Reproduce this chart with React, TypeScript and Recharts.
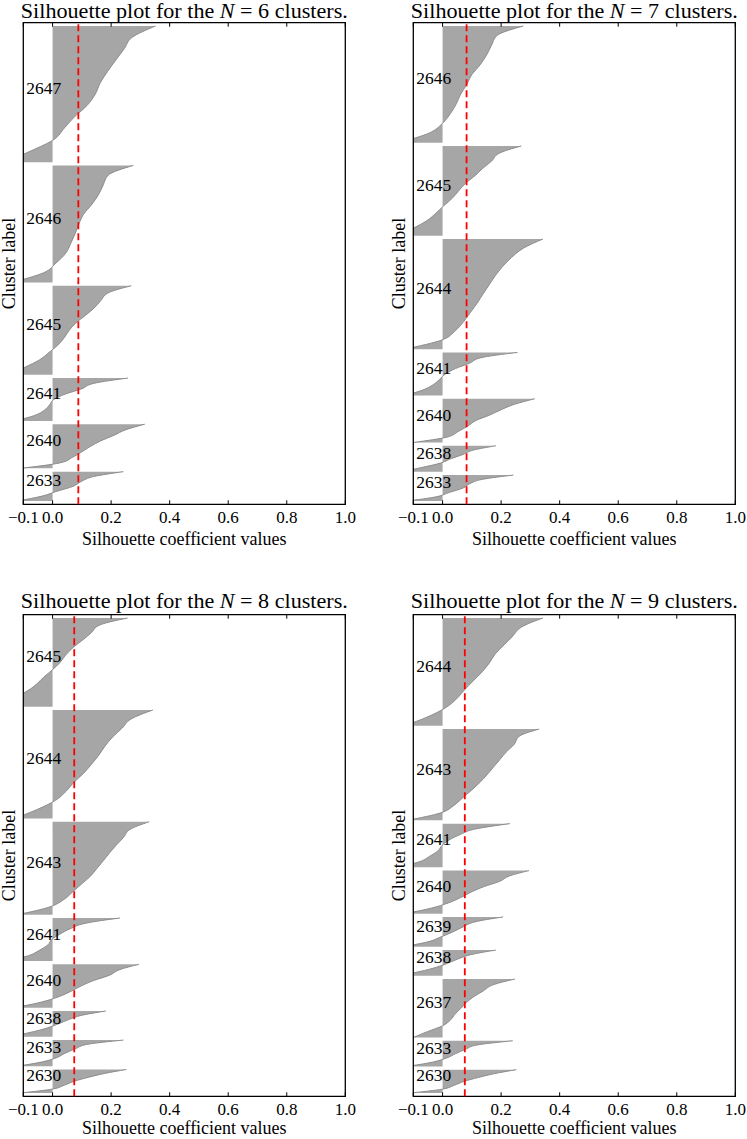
import React from 'react';
import {
    ComposedChart,
    Area,
    XAxis,
    YAxis,
    ReferenceLine,
    ReferenceArea,
    ReferenceDot,
} from 'recharts';

const FONT = '"Liberation Serif", "Times New Roman", serif';

// sorted silhouette values of every cluster, read from bottom to top of the band
// N = 6
const n6Labels = ['2633', '2640', '2641', '2645', '2646', '2647'];
const n6Sizes = [89, 134, 130, 270, 355, 413];
const n6Values = [
    [-0.12, -0.036, 0.015, 0.07, 0.098, 0.14, 0.242],
    [-0.11, 0.026, 0.068, 0.1, 0.13, 0.165, 0.21, 0.25, 0.315],
    [-0.13, -0.062, -0.028, -0.01, 0.004, 0.043, 0.1, 0.14, 0.258],
    [-0.15, -0.095, -0.045, -0.012, 0.018, 0.04, 0.057, 0.08, 0.112, 0.142, 0.165, 0.188, 0.269],
    [-0.14, -0.03, 0.012, 0.045, 0.062, 0.077, 0.09, 0.106, 0.134, 0.157, 0.173, 0.19, 0.276],
    [-0.16, -0.073, 0.005, 0.04, 0.075, 0.118, 0.146, 0.163, 0.188, 0.216, 0.245, 0.272, 0.352],
];
const n6Avg = 0.088;

// N = 7
const n7Labels = ['2633', '2638', '2640', '2641', '2644', '2645', '2646'];
const n7Sizes = [79, 79, 133, 131, 335, 273, 355];
const n7Values = [
    [-0.12, -0.02, 0.024, 0.07, 0.093, 0.135, 0.242],
    [-0.14, -0.07, -0.007, 0.028, 0.07, 0.105, 0.182],
    [-0.1, 0.016, 0.053, 0.086, 0.113, 0.16, 0.2, 0.246, 0.315],
    [-0.13, -0.068, -0.032, -0.01, 0.01, 0.044, 0.092, 0.13, 0.256],
    [-0.13, -0.002, 0.043, 0.072, 0.095, 0.118, 0.138, 0.159, 0.18, 0.205, 0.236, 0.276, 0.343],
    [-0.15, -0.1, -0.054, -0.023, 0.004, 0.033, 0.055, 0.078, 0.11, 0.137, 0.168, 0.192, 0.269],
    [-0.15, -0.045, 0, 0.027, 0.047, 0.062, 0.083, 0.1, 0.128, 0.15, 0.167, 0.185, 0.276],
];
const n7Avg = 0.082;

// N = 8
const n8Labels = ['2630', '2633', '2638', '2640', '2641', '2643', '2644', '2645'];
const n8Sizes = [71, 79, 78, 131, 130, 281, 328, 268];
const n8Values = [
    [-0.11, 0, 0.04, 0.074, 0.122, 0.178, 0.252],
    [-0.12, -0.034, 0.015, 0.043, 0.078, 0.117, 0.242],
    [-0.15, -0.077, -0.02, 0.02, 0.055, 0.1, 0.182],
    [-0.13, -0.04, 0.02, 0.062, 0.097, 0.14, 0.195, 0.228, 0.295],
    [-0.16, -0.082, -0.045, -0.016, -0.003, 0.025, 0.06, 0.11, 0.23],
    [-0.12, -0.01, 0.04, 0.07, 0.1, 0.13, 0.152, 0.174, 0.195, 0.218, 0.243, 0.264, 0.33],
    [-0.13, -0.052, 0.01, 0.046, 0.073, 0.106, 0.133, 0.158, 0.179, 0.205, 0.238, 0.268, 0.343],
    [-0.2, -0.15, -0.092, -0.056, -0.03, 0, 0.026, 0.045, 0.07, 0.102, 0.132, 0.158, 0.256],
];
const n8Avg = 0.074;

// N = 9
const n9Labels = ['2630', '2633', '2637', '2638', '2639', '2640', '2641', '2643', '2644'];
const n9Sizes = [71, 78, 178, 78, 91, 131, 133, 278, 328];
const n9Values = [
    [-0.11, 0, 0.04, 0.074, 0.122, 0.178, 0.252],
    [-0.12, -0.034, 0.015, 0.045, 0.078, 0.117, 0.24],
    [-0.1, -0.052, 0, 0.027, 0.043, 0.0625, 0.082, 0.107, 0.14, 0.172, 0.247],
    [-0.15, -0.077, -0.02, 0.02, 0.055, 0.1, 0.182],
    [-0.14, -0.05, -0.005, 0.035, 0.07, 0.11, 0.207],
    [-0.13, -0.04, 0.02, 0.062, 0.097, 0.14, 0.195, 0.228, 0.295],
    [-0.16, -0.08, -0.045, -0.016, -0.002, 0.022, 0.06, 0.11, 0.23],
    [-0.12, -0.005, 0.04, 0.07, 0.1, 0.128, 0.152, 0.174, 0.196, 0.218, 0.245, 0.26, 0.33],
    [-0.13, -0.05, 0.01, 0.048, 0.075, 0.105, 0.135, 0.16, 0.18, 0.21, 0.24, 0.27, 0.343],
];
const n9Avg = 0.076;

const xTicks = [-0.1, 0, 0.2, 0.4, 0.6, 0.8, 1.0];

const GAP = 10;
const CHART_W = 370;
const CHART_H = 546;
const PLOT_L = 23.3;
const PLOT_T = 22.7;
const PLOT_R = 345.3;
const PLOT_B = 504.3;
const CENTER_X = (PLOT_L + PLOT_R) / 2;

// stack the clusters like the sklearn example: y_lower starts at 10, 10 between bands
function buildClusters(labels: string[], sizes: number[], values: number[][]) {
    let lower = GAP;
    const clusters = labels.map((label, i) => {
        const size = sizes[i];
        const vals = values[i];
        const m = vals.length;
        const pts = vals.map((v, j) => ({ y: lower + (size * j) / (m - 1), v }));
        const c = { label, mid: lower + size / 2, pts };
        lower += size + GAP;
        return c;
    });
    return { clusters, total: lower };
}

const fmtTick = (v: number) => v.toFixed(1).replace('-', '\u2212');

const renderBottomTick = (props: any) => {
    const { x, y, payload } = props;
    return (
        <g>
            <line x1={x} y1={y} x2={x} y2={y - 4} stroke="#000" strokeWidth={1} />
            <text x={x} y={y + 19} textAnchor="middle" fontFamily={FONT} fontSize={17} fill="#000">
                {fmtTick(payload.value)}
            </text>
        </g>
    );
};

const renderTopTick = (props: any) => {
    const { x, y } = props;
    return <line x1={x} y1={y} x2={x} y2={y + 4} stroke="#000" strokeWidth={1} />;
};

type PanelProps = {
    k: number;
    labels: string[];
    sizes: number[];
    values: number[][];
    avg: number;
    left: number;
    top: number;
    titleY: number;
    xLabelY: number;
};

const Panel: React.FC<PanelProps> = ({ k, labels, sizes, values, avg, left, top, titleY, xLabelY }) => {
    const { clusters, total } = buildClusters(labels, sizes, values);
    return (
        <div style={{ position: 'absolute', left, top, width: CHART_W, height: CHART_H }}>
            <ComposedChart
                layout="vertical"
                width={CHART_W}
                height={CHART_H}
                margin={{ top: PLOT_T - 1, left: PLOT_L, right: CHART_W - PLOT_R, bottom: CHART_H - PLOT_B - 1 }}
            >
                <XAxis
                    type="number"
                    domain={[-0.1, 1]}
                    ticks={xTicks}
                    allowDataOverflow
                    interval={0}
                    height={1}
                    tickSize={0}
                    tickMargin={0}
                    tickLine={false}
                    axisLine={false}
                    tick={renderBottomTick}
                />
                <XAxis
                    xAxisId="top"
                    orientation="top"
                    type="number"
                    domain={[-0.1, 1]}
                    ticks={xTicks}
                    allowDataOverflow
                    interval={0}
                    height={1}
                    tickSize={0}
                    tickMargin={0}
                    tickLine={false}
                    axisLine={false}
                    tick={renderTopTick}
                />
                <YAxis type="number" dataKey="y" domain={[0, total]} allowDataOverflow reversed hide />
                {clusters.map((c) => (
                    <Area
                        key={c.label}
                        data={c.pts}
                        dataKey="v"
                        type="monotone"
                        baseValue={0}
                        fill="#a6a6a6"
                        fillOpacity={1}
                        stroke="#8c8c8c"
                        strokeWidth={1}
                        dot={false}
                        activeDot={false}
                        isAnimationActive={false}
                    />
                ))}
                <ReferenceLine x={avg} stroke="#ff0000" strokeWidth={1.8} strokeDasharray="7 4" />
                {clusters.map((c) => (
                    <ReferenceDot
                        key={'lbl' + c.label}
                        x={-0.09}
                        y={c.mid}
                        r={0}
                        shape={(p: any) => (
                            <text x={p.cx} y={p.cy} fontFamily={FONT} fontSize={17.5} fill="#000">
                                {c.label}
                            </text>
                        )}
                    />
                ))}
                <ReferenceArea x1={-0.1} x2={1} y1={0} y2={total} fill="none" stroke="#000" strokeWidth={1.3} />
            </ComposedChart>
            <svg
                width={CHART_W}
                height={CHART_H}
                style={{ position: 'absolute', left: 0, top: 0, pointerEvents: 'none', overflow: 'visible' }}
            >
                <text
                    x={CENTER_X}
                    y={titleY}
                    textAnchor="middle"
                    textLength={327}
                    lengthAdjust="spacingAndGlyphs"
                    fontFamily={FONT}
                    fontSize={20}
                    fill="#000"
                >
                    Silhouette plot for the <tspan fontStyle="italic">N</tspan> = {k} clusters.
                </text>
                <text
                    transform={`translate(15, ${(PLOT_T + PLOT_B) / 2}) rotate(-90)`}
                    textAnchor="middle"
                    fontFamily={FONT}
                    fontSize={18}
                    fill="#000"
                >
                    Cluster label
                </text>
                <text x={CENTER_X} y={xLabelY} textAnchor="middle" fontFamily={FONT} fontSize={18} fill="#000">
                    Silhouette coefficient values
                </text>
            </svg>
        </div>
    );
};

const App: React.FC = () => {
    return (
        <div style={{ position: 'absolute', left: 0, top: 0, width: 747, height: 1139, background: '#fff', overflow: 'hidden' }}>
            <Panel k={6} labels={n6Labels} sizes={n6Sizes} values={n6Values} avg={n6Avg} left={0} top={0} titleY={17.9} xLabelY={545} />
            <Panel k={7} labels={n7Labels} sizes={n7Sizes} values={n7Values} avg={n7Avg} left={390} top={0} titleY={17.9} xLabelY={545} />
            <Panel k={8} labels={n8Labels} sizes={n8Sizes} values={n8Values} avg={n8Avg} left={0} top={592.3} titleY={15.6} xLabelY={542.3} />
            <Panel k={9} labels={n9Labels} sizes={n9Sizes} values={n9Values} avg={n9Avg} left={390} top={592.3} titleY={15.6} xLabelY={542.3} />
        </div>
    );
};

export default App;
